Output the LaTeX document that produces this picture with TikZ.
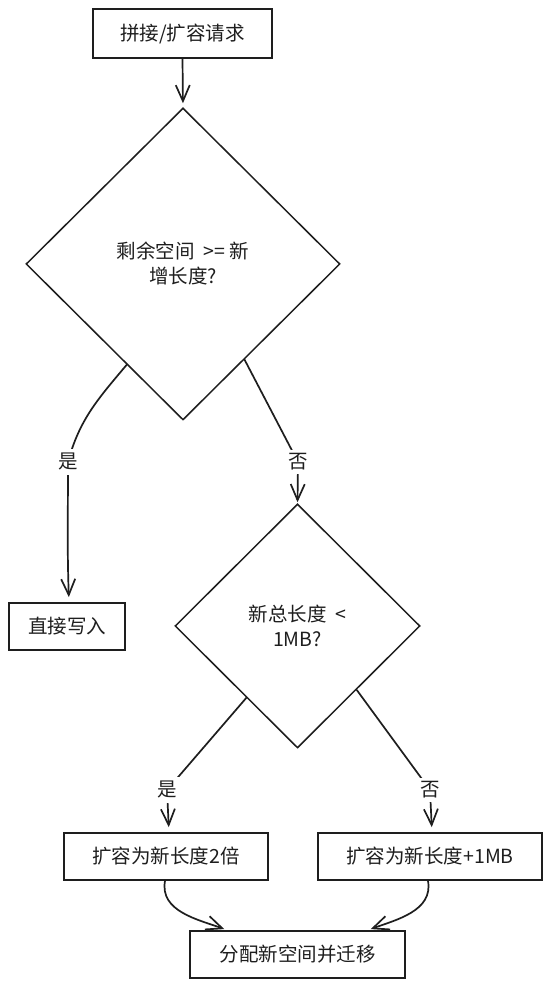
\documentclass[tikz,border=0pt]{standalone}
\usepackage{fontspec}
\setmainfont{Noto Sans CJK SC}
\usetikzlibrary{shapes.geometric,arrows.meta,calc}
\definecolor{ink}{HTML}{1E1E1E}
\newcommand\diagfont{\fontsize{19.5pt}{25pt}\selectfont}
\tikzset{
  box/.style={draw=ink, line width=1.8pt, rectangle, minimum height=47pt, inner sep=0pt, font=\diagfont, text=ink},
  dia/.style={draw=ink, line width=1.5pt, diamond, inner sep=0pt, align=center, font=\diagfont, text=ink},
  conn/.style={draw=ink, line width=1.7pt, line cap=round, -{Straight Barb[length=16pt,width=14pt]}},
  lbl/.style={fill=white, inner sep=4pt, font=\diagfont, text=ink},
}
\begin{document}
\begin{tikzpicture}[x=1pt,y=1pt]
\useasboundingbox[fill=white] (0,0) rectangle (550,988);
% nodes
\node[box, minimum width=179pt, minimum height=49pt] (start) at (182.5,954.5) {拼接/扩容请求};
\node[dia, minimum width=314pt, minimum height=312pt] (d1) at (183,724) {剩余空间 \ >= 新\\增长度?};
\node[box, minimum width=116pt] (direct) at (67,361.5) {直接写入};
\node[dia, minimum width=245pt, minimum height=244pt] (d2) at (297.5,362) {新总长度 \ <\\1MB?};
\node[box, minimum width=204pt] (dbl) at (166,131.5) {扩容为新长度2倍};
\node[box, minimum width=224pt] (plus) at (430,131.5) {扩容为新长度+1MB};
\node[box, minimum width=215pt] (alloc) at (297.5,33.5) {分配新空间并迁移};
% connection points
\coordinate (s1) at ($(d1.west)!0.643!(d1.south)$);
\coordinate (s2) at ($(d1.south)!0.39!(d1.east)$);
\coordinate (s3) at ($(d2.west)!0.585!(d2.south)$);
\coordinate (s4) at ($(d2.south)!0.48!(d2.east)$);
\coordinate (p1) at (68,526);
\coordinate (p2) at (298,526);
\coordinate (p3) at (167,198);
\coordinate (p4) at (430,198);
% connectors
\draw[conn, shorten >=4pt] (start.south) -- (d1.north);
\draw[conn, shorten >=5pt] (s1) to[out=-130,in=75] (p1) to[out=-90,in=92] ($(direct.north)+(2,0)$);
\draw[conn, shorten >=1pt] (s2) -- (p2) -- (d2.north);
\draw[conn, shorten >=5pt] (s3) -- (p3) -- ($(dbl.north)+(3,0)$);
\draw[conn, shorten >=5pt] (s4) -- (p4) -- ($(plus.north)+(2,0)$);
\draw[conn, shorten >=3pt] ($(dbl.south)+(-1,0)$) to[out=-100,in=160] ($(alloc.north west)+(38,0)$);
\draw[conn, shorten >=3pt] ($(plus.south)+(-2,0)$) to[out=-80,in=20] ($(alloc.north east)+(-38,0)$);
% labels
\node[lbl] (l1) at (p1) {是};
\node[lbl] (l2) at (p2) {否};
\node[lbl] (l3) at (p3) {是};
\node[lbl] (l4) at (p4) {否};
\end{tikzpicture}
\end{document}
